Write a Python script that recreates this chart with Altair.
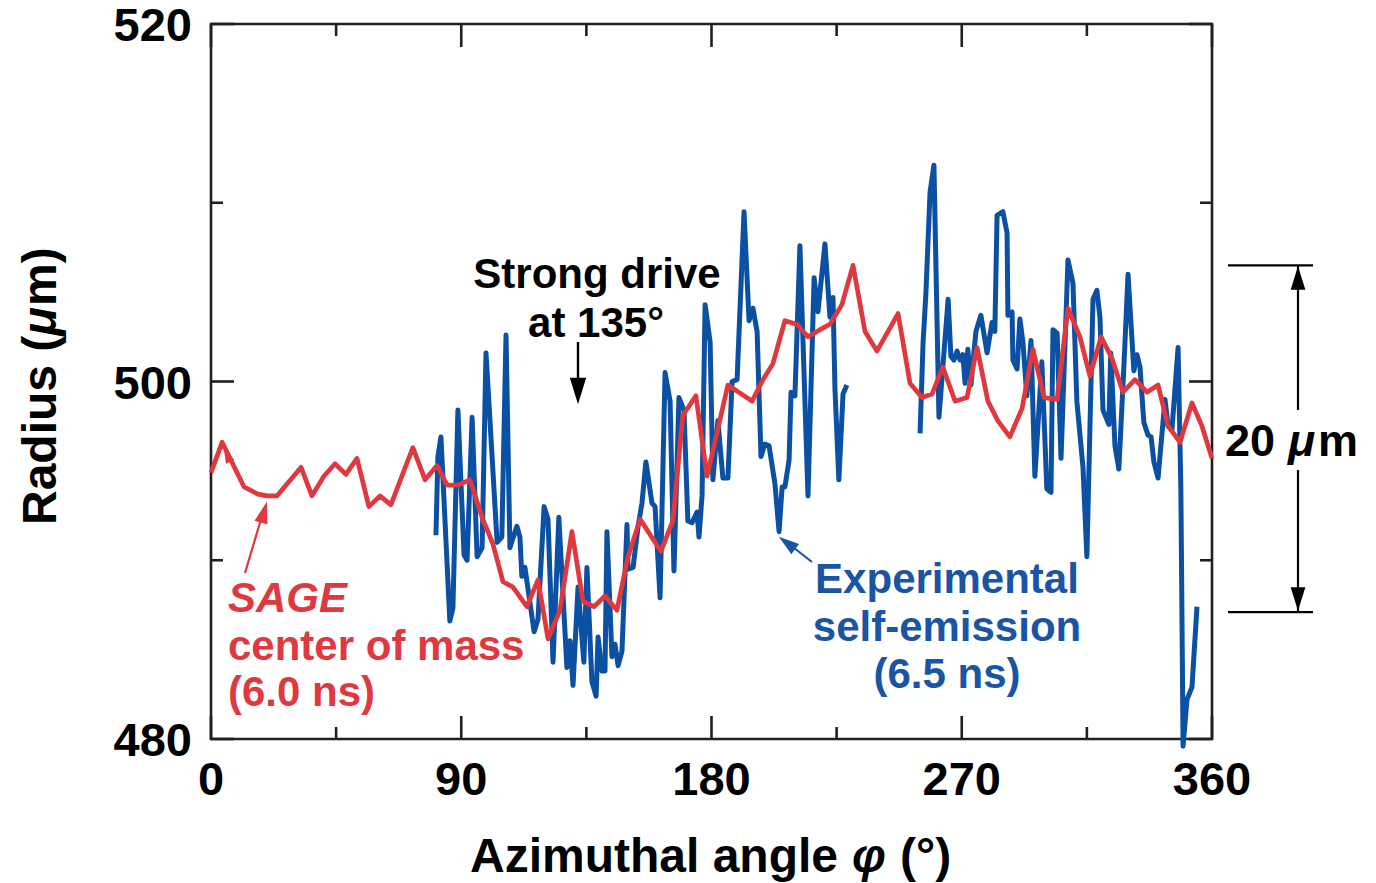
import altair as alt
import pandas as pd

# ---- SAGE center of mass (6.0 ns), red curve ----
sage_angle = [0, 4.0, 11.9, 16.9, 20.1, 23.7, 32.4, 36.3, 40.6, 44.6, 48.5, 52.5, 56.8, 60.8, 64.7,
              72.6, 77.0, 81.3, 84.9, 88.8, 93.1, 97.5, 101.4, 105.0, 108.6, 113.6, 117.6, 121.2,
              125.5, 129.8, 133.8, 137.7, 141.7, 146.0, 150.0, 154.3, 161.8, 166.1, 169.7, 174.4,
              178.4, 185.9, 194.6, 198.5, 202.1, 206.4, 210.7, 214.7, 219.0, 222.6, 226.9, 230.9,
              235.2, 239.5, 247.1, 251.4, 255.7, 259.3, 263.2, 267.6, 271.9, 275.5, 279.4, 283.0,
              287.3, 291.7, 295.6, 299.6, 304.3, 308.2, 312.5, 316.1, 320.1, 324.0, 328.0, 332.3,
              336.6, 340.6, 344.2, 348.5, 352.8, 356.4, 360]
sage_radius = [494.9, 496.6, 494.1, 493.7, 493.6, 493.6, 495.2, 493.6, 494.7, 495.4, 494.8, 495.7,
               493.0, 493.6, 493.1, 496.3, 494.5, 495.3, 494.2, 494.2, 494.5, 492.4, 490.9, 488.8,
               488.5, 487.4, 488.9, 485.6, 487.2, 491.6, 487.7, 487.4, 488.0, 487.2, 490.2, 492.3,
               490.5, 492.2, 498.1, 499.2, 494.7, 499.8, 498.9, 500.1, 501.0, 503.4, 503.2, 502.5,
               502.9, 503.2, 504.3, 506.5, 502.8, 501.7, 503.8, 499.9, 499.1, 499.3, 500.8, 498.9,
               499.1, 501.9, 498.9, 497.8, 496.9, 498.5, 501.8, 499.1, 499.0, 504.1, 502.5, 500.3,
               502.5, 501.3, 499.4, 500.1, 499.4, 499.8, 497.5, 496.6, 498.8, 497.5, 495.7]

# ---- Experimental self-emission (6.5 ns), blue curve, two pieces (gap near 230-255 deg) ----
emis_angle_a = [80.9, 81.6, 82.7, 85.9, 87.0, 88.8, 91.0, 92.1, 93.9, 95.7,
                97.5, 98.9, 102.9, 104.6, 106.1, 107.5, 110.0, 111.1, 111.8, 112.9,
                116.2, 117.6, 119.8, 121.2, 123.0, 125.1, 128.0, 129.1, 130.2, 132.0,
                134.1, 135.2, 137.0, 138.5, 139.2, 140.6, 141.7, 142.4, 144.2, 145.3,
                146.4, 147.8, 149.6, 150.0, 151.8, 153.6, 155.0, 156.4, 158.6, 159.7,
                161.5, 163.3, 165.1, 166.5, 168.3, 170.1, 171.5, 173.0, 174.8, 175.5,
                176.6, 177.7, 179.5, 180.5, 182.3, 184.1, 185.9, 187.4, 189.2, 191.7,
                193.5, 194.9, 196.4, 197.8, 199.2, 200.7, 202.8, 204.3, 205.4, 206.4,
                207.9, 208.6, 210.0, 211.8, 214.7, 216.9, 218.3, 220.8, 222.6, 223.7,
                224.4, 225.8, 227.3, 228.7]
emis_radius_a = [491.4, 495.8, 496.9, 486.6, 487.3, 498.4, 490.3, 490.0, 498.0, 490.2,
                 490.7, 501.6, 491.0, 491.3, 502.6, 490.7, 491.9, 491.3, 489.1, 489.6,
                 486.0, 486.7, 493.0, 492.3, 484.3, 492.4, 484.0, 485.5, 483.0, 488.5,
                 484.3, 489.6, 483.2, 482.4, 485.7, 483.8, 483.8, 491.6, 484.6, 485.3,
                 484.1, 484.9, 492.0, 489.5, 489.6, 491.9, 493.2, 495.5, 493.2, 493.0,
                 487.9, 500.5, 498.9, 489.4, 499.1, 498.4, 492.2, 492.1, 492.7, 491.3,
                 493.6, 504.3, 502.2, 494.5, 497.8, 494.6, 494.6, 500.0, 500.1, 509.5,
                 503.4, 504.1, 502.8, 495.8, 496.5, 496.4, 494.3, 491.6, 494.1, 494.1,
                 495.6, 499.4, 499.2, 507.6, 493.6, 505.8, 503.9, 507.7, 503.6, 504.7,
                 499.6, 494.5, 499.3, 499.8]
emis_angle_b = [255.0, 256.1, 257.1, 258.6, 260.0, 261.8, 265.1, 266.1, 267.2, 268.3,
                269.4, 270.4, 271.2, 272.2, 273.3, 275.1, 276.9, 279.1, 280.9, 281.9,
                282.7, 284.8, 286.3, 286.6, 288.1, 288.4, 289.9, 290.9, 292.0, 293.4,
                294.9, 296.3, 298.8, 300.6, 302.1, 302.8, 304.3, 305.7, 308.2, 310.0,
                311.4, 313.6, 315.0, 317.2, 318.6, 319.7, 320.8, 322.9, 323.6, 325.1,
                326.5, 328.3, 329.8, 331.9, 333.0, 334.1, 335.5, 337.0, 338.1, 339.1,
                340.6, 343.1, 344.2, 345.6, 347.8, 348.8, 349.6, 351.0, 352.8, 354.6]
emis_radius_b = [497.1, 502.2, 504.9, 510.6, 512.1, 498.0, 504.6, 501.4, 501.2, 501.7,
                 501.2, 501.5, 499.9, 501.8, 499.8, 502.8, 503.7, 501.6, 503.3, 502.8,
                 509.3, 509.5, 508.3, 503.7, 503.9, 501.2, 500.7, 503.5, 502.2, 499.2,
                 502.3, 494.7, 501.1, 494.0, 493.8, 502.9, 502.7, 495.7, 506.8, 505.5,
                 498.9, 495.2, 490.2, 504.6, 505.1, 503.6, 498.4, 497.6, 501.6, 496.4,
                 495.1, 500.8, 506.0, 500.6, 501.5, 500.8, 497.7, 497.0, 496.9, 495.5,
                 494.6, 499.0, 497.5, 497.3, 501.9, 494.0, 479.6, 482.2, 482.9, 487.4]

# ---- axis ticks / labels ----
x_major = [0, 90, 180, 270, 360]
x_minor = [45, 135, 225, 315]
y_major = [480, 500, 520]
y_minor = [490, 510]
scale_bar = [506.5, 487.1]   # ends of the "20 um" bar (radius units)

RED = "#e0383f"
BLUE = "#0b50a2"
BLUE_TXT = "#1a55a4"
FRAME = "#231f20"
FONT = "Liberation Sans"
W, H = 1001, 715
L, T = 211, 24
ARROW = "M0,-1L-0.62,1L0.62,1Z"

xs = alt.Scale(domain=[0, 360], nice=False, zero=False)
ys = alt.Scale(domain=[480, 520], nice=False, zero=False)

sage = pd.DataFrame({"angle": sage_angle, "radius": sage_radius})
emis = pd.concat([
    pd.DataFrame({"angle": emis_angle_a, "radius": emis_radius_a, "seg": "a"}),
    pd.DataFrame({"angle": emis_angle_b, "radius": emis_radius_b, "seg": "b"}),
], ignore_index=True)
emis["order"] = range(len(emis))

blue_line = alt.Chart(emis).mark_line(color=BLUE, strokeWidth=5.0, strokeJoin="round").encode(
    x=alt.X("angle:Q", scale=xs, axis=None),
    y=alt.Y("radius:Q", scale=ys, axis=None),
    detail="seg:N", order="order:Q")

red_line = alt.Chart(sage).mark_line(color=RED, strokeWidth=4.7, strokeJoin="round").encode(
    x=alt.X("angle:Q", scale=xs, axis=None),
    y=alt.Y("radius:Q", scale=ys, axis=None))


def xticks(vals, length):
    d = pd.DataFrame({"v": vals})
    bot = alt.Chart(d).mark_rule(color=FRAME, strokeWidth=2.6).encode(
        x=alt.X("v:Q", scale=xs, axis=None), y=alt.value(H), y2=alt.value(H - length))
    top = alt.Chart(d).mark_rule(color=FRAME, strokeWidth=2.6).encode(
        x=alt.X("v:Q", scale=xs, axis=None), y=alt.value(0), y2=alt.value(length))
    return [bot, top]


def yticks(vals, length):
    d = pd.DataFrame({"v": vals})
    left = alt.Chart(d).mark_rule(color=FRAME, strokeWidth=2.6).encode(
        y=alt.Y("v:Q", scale=ys, axis=None), x=alt.value(0), x2=alt.value(length))
    right = alt.Chart(d).mark_rule(color=FRAME, strokeWidth=2.6).encode(
        y=alt.Y("v:Q", scale=ys, axis=None), x=alt.value(W), x2=alt.value(W - length))
    return [left, right]


# tick labels as text marks placed through the scales
x_lab = alt.Chart(pd.DataFrame({"v": x_major})).mark_text(
    font=FONT, fontSize=47, fontWeight="bold", color="black", align="center",
    baseline="alphabetic").encode(
    x=alt.X("v:Q", scale=xs, axis=None), y=alt.value(795 - T), text=alt.Text("v:Q", format="d"))
y_lab = alt.Chart(pd.DataFrame({"v": y_major})).mark_text(
    font=FONT, fontSize=47, fontWeight="bold", color="black", align="right",
    baseline="alphabetic", dy=17).encode(
    y=alt.Y("v:Q", scale=ys, axis=None), x=alt.value(192 - L), text=alt.Text("v:Q", format="d"))

one = pd.DataFrame({"k": [0]})


def text(t, x, y, size=42, color="black", align="left", style="normal", angle=0):
    kw = dict(text=t, font=FONT, fontSize=size, fontWeight="bold", fontStyle=style,
              color=color, align=align, baseline="alphabetic")
    if angle:
        kw["angle"] = angle
    return alt.Chart(one).mark_text(**kw).encode(x=alt.value(x - L), y=alt.value(y - T))


def seg(x1, y1, x2, y2, color, w=2.5):
    return alt.Chart(one).mark_rule(color=color, strokeWidth=w).encode(
        x=alt.value(x1 - L), y=alt.value(y1 - T), x2=alt.value(x2 - L), y2=alt.value(y2 - T))


def head(x, y, angle, size, color):
    return alt.Chart(one).mark_point(shape=ARROW, filled=True, size=size, angle=angle,
                                     color=color, opacity=1, strokeWidth=0).encode(
        x=alt.value(x - L), y=alt.value(y - T))


# scale bar (20 um) drawn in radius units on the right
bar = pd.DataFrame({"r": scale_bar})
bar_h = alt.Chart(bar).mark_rule(color="black", strokeWidth=2.2).encode(
    y=alt.Y("r:Q", scale=ys, axis=None), x=alt.value(1228 - L), x2=alt.value(1313 - L))

layers = [blue_line, red_line]
layers += xticks(x_major, 23) + xticks(x_minor, 12) + yticks(y_major, 23) + yticks(y_minor, 12)
layers += [x_lab, y_lab]
layers += [
    bar_h,
    seg(1298, 266, 1298, 410, "black", 2.2), seg(1298, 470, 1298, 611, "black", 2.2),
    head(1298, 278, 0, 560, "black"), head(1298, 599, 180, 560, "black"),
    text("20", 1225, 456, size=45),
    text("μ", 1288, 456, size=45, style="italic"),
    text("m", 1318, 456, size=45),
    # strong drive annotation
    text("Strong drive", 597, 288, align="center"),
    text("at 135°", 596, 337, align="center"),
    seg(578, 342, 578, 392, "black", 2.4),
    head(578, 391, 180, 700, "black"),
    # SAGE label
    text("SAGE", 228, 612, color=RED, style="italic"),
    text("center of mass", 228, 660, color=RED),
    text("(6.0 ns)", 228, 706, color=RED),
    seg(245, 573, 262, 516, RED, 2.2),
    head(264, 512, 16, 480, RED),
    head(227, 455, 335, 220, RED),
    # experimental label
    text("Experimental", 947, 593, color=BLUE_TXT, align="center"),
    text("self-emission", 947, 641, color=BLUE_TXT, align="center"),
    text("(6.5 ns)", 947, 688, color=BLUE_TXT, align="center"),
    seg(812, 562, 789, 544, BLUE_TXT, 2.2),
    head(787, 543, 307, 420, BLUE_TXT),
    # axis titles
    text("Azimuthal angle", 470, 872, size=48),
    text("φ", 852, 872, size=48, style="italic"),
    text("(°)", 900, 872, size=48),
    text("Radius (", 56, 525, size=48, angle=270),
    text("μ", 56, 336, size=48, style="italic", angle=270),
    text("m)", 56, 306, size=48, angle=270),
]

chart = alt.layer(*layers).properties(
    width=W, height=H,
    padding={"left": L, "top": T, "right": 1376 - L - W, "bottom": 883 - T - H},
    autosize=alt.AutoSizeParams(type="none"),
    background="white",
).configure_view(stroke=FRAME, strokeWidth=2.6)

chart.save("out.html", embed_options={"renderer": "svg", "actions": False})
